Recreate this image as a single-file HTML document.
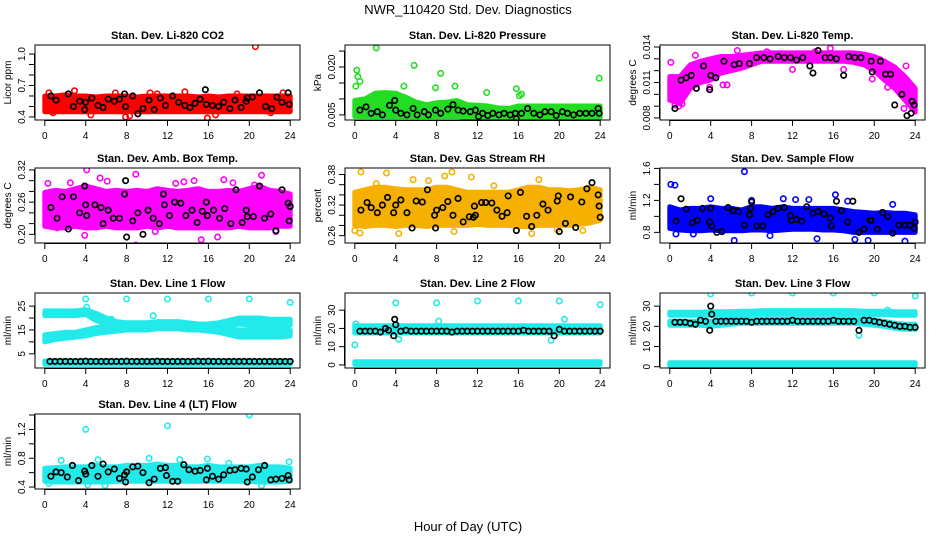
<!DOCTYPE html>
<html><head><meta charset="utf-8"><style>
html,body{margin:0;padding:0;background:#fff;}
svg{display:block;font-family:"Liberation Sans",sans-serif;}
</style></head><body>
<svg id="chart" width="936" height="540" viewBox="0 0 936 540" xmlns="http://www.w3.org/2000/svg">
<rect width="936" height="540" fill="#fff"/>
<text x="468" y="14" text-anchor="middle" font-size="13">NWR_110420  Std. Dev. Diagnostics</text>
<text x="468" y="531" text-anchor="middle" font-size="13">Hour of Day (UTC)</text>
</svg>
<script>
// ---------- data ----------
const hours=[0,1,2,3,4,5,6,7,8,9,10,11,12,13,14,15,16,17,18,19,20,21,22,23,24];
const xTicks=[0,4,8,12,16,20,24];

// CO2
const co2Lo=[0.45,0.45,0.45,0.45,0.45,0.45,0.45,0.45,0.45,0.45,0.45,0.45,0.45,0.45,0.45,0.45,0.45,0.45,0.45,0.45,0.45,0.45,0.45,0.45,0.45];
const co2Hi=[0.6,0.6,0.61,0.6,0.6,0.59,0.6,0.6,0.6,0.59,0.6,0.6,0.6,0.6,0.6,0.59,0.6,0.59,0.6,0.6,0.6,0.6,0.6,0.6,0.6];
const co2OutX=[20.6,15.9,7.9,4.5,13.7,2.9,0.4,10.3,22.1,16.7,23.3,0.8,8.3,18.8,11.0,6.9];
const co2OutY=[1.07,0.39,0.40,0.42,0.64,0.65,0.63,0.63,0.44,0.42,0.63,0.44,0.41,0.62,0.62,0.63];
const co2BlkX=[0.6,1.1,2.3,2.8,3.4,3.9,4.0,4.6,5.2,5.7,6.2,6.8,7.3,7.8,7.9,8.6,9.1,9.6,10.2,10.7,11.3,11.8,12.5,13.1,13.7,14.2,14.7,15.2,15.7,15.8,16.4,17.0,17.5,18.1,18.6,19.2,19.7,19.8,20.3,21.0,21.6,22.2,22.7,23.2,23.8,23.9];
const co2BlkY=[0.6,0.56,0.62,0.5,0.55,0.47,0.54,0.58,0.51,0.49,0.57,0.55,0.57,0.62,0.5,0.6,0.43,0.48,0.56,0.47,0.58,0.51,0.6,0.54,0.51,0.49,0.53,0.57,0.66,0.52,0.51,0.5,0.54,0.48,0.56,0.49,0.55,0.58,0.59,0.63,0.5,0.48,0.59,0.54,0.63,0.52];

// Pressure
const prsLo=[0.0045,0.0045,0.0045,0.0045,0.0045,0.0045,0.0045,0.0045,0.0045,0.0045,0.0045,0.0042,0.0042,0.0042,0.0042,0.0042,0.0042,0.0042,0.0042,0.0042,0.0042,0.0042,0.0042,0.0042,0.0042];
const prsHi=[0.0095,0.01,0.0118,0.012,0.0118,0.0105,0.009,0.0082,0.0088,0.009,0.0095,0.0082,0.008,0.0078,0.0072,0.007,0.0078,0.0078,0.0078,0.0078,0.0078,0.0078,0.0078,0.0078,0.0078];
const prsOutX=[2.1,0.2,0.3,5.8,8.4,0.1,4.8,7.9,9.8,23.9,15.8,12.9,16.3,0.5,16.1];
const prsOutY=[0.026,0.019,0.017,0.0205,0.018,0.014,0.014,0.0135,0.014,0.0165,0.0132,0.012,0.0115,0.0155,0.011];
const prsBlkX=[0.5,1.1,1.6,2.2,2.7,3.4,3.9,4.0,4.5,5.1,5.7,6.1,6.8,7.2,7.9,8.4,9.1,9.6,10.1,10.6,11.3,11.8,12.1,12.5,13.0,13.5,14.1,14.6,15.2,15.7,15.8,16.3,16.9,17.5,18.1,18.6,19.2,19.7,20.3,20.8,21.4,22.0,22.6,23.2,23.8,23.9];
const prsBlkY=[0.0065,0.0075,0.0055,0.006,0.005,0.008,0.0095,0.0065,0.0055,0.005,0.007,0.005,0.006,0.005,0.0065,0.0055,0.0068,0.0082,0.0065,0.0062,0.006,0.0065,0.0045,0.0055,0.0048,0.0055,0.005,0.0055,0.005,0.0055,0.0038,0.0055,0.007,0.0055,0.005,0.006,0.006,0.0048,0.006,0.0055,0.005,0.0055,0.0055,0.0055,0.007,0.0055];

// Li-820 Temp
const tmpLo=[0.0095,0.0092,0.0105,0.011,0.0112,0.0118,0.012,0.0122,0.0125,0.0128,0.0128,0.0128,0.0128,0.0128,0.0128,0.0128,0.0128,0.0128,0.0127,0.0125,0.012,0.0112,0.0105,0.0095,0.0085];
const tmpHi=[0.0115,0.0115,0.0125,0.0128,0.013,0.0132,0.0132,0.0133,0.0134,0.0135,0.0135,0.0135,0.0135,0.0135,0.0135,0.0135,0.0135,0.0135,0.0135,0.0134,0.0132,0.0128,0.0123,0.0115,0.0105];
const tmpOutX=[0.1,0.5,0.9,1.2,2.5,3.9,5.2,5.6,6.6,9.5,12.0,14.2,15.7,17.0,19.8,20.6,21.3,22.9,23.1,22.5,0.3];
const tmpOutY=[0.0127,0.0091,0.009,0.0092,0.0133,0.0106,0.0108,0.0108,0.0137,0.0136,0.0121,0.0136,0.0139,0.0121,0.0113,0.0129,0.0106,0.0088,0.0124,0.0107,0.0104];
const tmpBlkX=[0.5,1.1,1.6,2.1,2.6,3.3,3.9,4.0,4.5,5.3,6.3,6.8,7.8,8.5,9.2,9.8,10.6,11.2,11.8,12.4,13.0,13.7,14.0,14.5,15.2,15.7,16.3,17.0,17.5,18.1,18.7,19.7,19.8,20.6,21.1,21.6,22.0,22.7,23.2,23.6,23.7,23.9];
const tmpBlkY=[0.0088,0.0112,0.0114,0.0116,0.0105,0.0124,0.0104,0.0116,0.0114,0.0128,0.0125,0.0126,0.0126,0.0131,0.0131,0.013,0.0132,0.0131,0.0131,0.0129,0.0131,0.0124,0.0118,0.0137,0.0131,0.0131,0.013,0.0116,0.0132,0.0131,0.0131,0.0128,0.0119,0.0128,0.0117,0.0117,0.0091,0.01,0.0082,0.0084,0.0094,0.0091];

// Amb box temp
const ambLo=[0.215,0.212,0.212,0.215,0.212,0.212,0.215,0.212,0.212,0.212,0.215,0.212,0.215,0.212,0.212,0.212,0.212,0.212,0.212,0.215,0.212,0.212,0.212,0.215,0.215];
const ambHi=[0.278,0.282,0.28,0.285,0.29,0.285,0.28,0.282,0.28,0.282,0.28,0.285,0.282,0.28,0.282,0.285,0.28,0.28,0.282,0.28,0.285,0.29,0.282,0.28,0.275];
const ambOutX=[4.1,8.9,21.2,5.4,0.3,8.9,15.3,22.6,17.5,3.9,12.8,16.9,2.5,20.5,14.6,1.2,13.6,10.8,6.1,18.4];
const ambOutY=[0.32,0.312,0.31,0.305,0.295,0.18,0.19,0.205,0.302,0.198,0.295,0.195,0.296,0.292,0.3,0.212,0.298,0.205,0.299,0.296];
const ambBlkX=[0.6,1.2,1.7,2.3,2.8,3.4,3.9,4.0,4.1,4.9,5.5,5.7,6.2,6.7,7.3,7.8,7.9,8.0,8.6,9.1,9.6,10.1,10.6,11.2,11.6,11.7,12.2,12.7,13.3,13.8,14.4,14.9,15.4,15.8,15.9,16.5,17.1,17.6,18.2,18.7,19.3,19.7,19.8,20.4,21.0,21.5,22.1,22.6,23.2,23.8,23.9,24.0];
const ambBlkY=[0.25,0.23,0.27,0.21,0.27,0.24,0.29,0.255,0.235,0.255,0.25,0.22,0.245,0.23,0.23,0.275,0.3,0.195,0.225,0.24,0.2,0.245,0.23,0.22,0.275,0.255,0.235,0.26,0.258,0.235,0.245,0.222,0.243,0.26,0.235,0.245,0.23,0.248,0.22,0.283,0.222,0.245,0.233,0.233,0.29,0.23,0.238,0.207,0.283,0.258,0.225,0.252];

// Gas stream RH
const rhLo=[0.28,0.278,0.28,0.28,0.278,0.28,0.28,0.278,0.28,0.28,0.28,0.28,0.282,0.28,0.28,0.28,0.278,0.278,0.28,0.28,0.28,0.28,0.282,0.285,0.29];
const rhHi=[0.345,0.35,0.355,0.355,0.352,0.35,0.35,0.35,0.355,0.355,0.35,0.345,0.345,0.345,0.345,0.345,0.35,0.355,0.355,0.35,0.35,0.348,0.35,0.355,0.35];
const rhOutX=[0.6,3.1,9.5,8.8,11.4,18.0,0.0,0.5,4.3,9.7,17.3,19.8,5.7,2.1,7.2,13.6,22.3];
const rhOutY=[0.385,0.383,0.385,0.377,0.375,0.37,0.27,0.265,0.264,0.268,0.264,0.272,0.37,0.362,0.368,0.358,0.27];
const rhBlkX=[0.6,1.2,1.6,2.2,2.7,3.2,3.8,4.0,4.5,5.1,5.6,6.0,6.6,7.1,7.8,7.9,8.0,8.6,9.1,9.6,10.1,10.6,11.2,11.6,11.7,11.8,12.4,12.8,13.4,13.9,14.4,14.9,15.0,15.8,16.2,16.8,17.3,17.8,18.4,18.9,19.8,19.9,20.0,20.6,21.1,21.6,22.2,22.7,23.2,23.8,23.9,24.0];
const rhBlkY=[0.31,0.325,0.315,0.305,0.32,0.335,0.305,0.32,0.33,0.305,0.275,0.328,0.326,0.35,0.3,0.275,0.31,0.315,0.327,0.3,0.333,0.287,0.297,0.296,0.318,0.3,0.325,0.325,0.324,0.31,0.298,0.305,0.338,0.27,0.345,0.298,0.278,0.3,0.322,0.31,0.328,0.338,0.268,0.284,0.336,0.276,0.326,0.352,0.364,0.34,0.318,0.296];

// Sample flow
const sfLo=[0.85,0.83,0.82,0.82,0.83,0.82,0.82,0.82,0.83,0.83,0.82,0.83,0.84,0.84,0.84,0.83,0.83,0.82,0.8,0.8,0.8,0.8,0.8,0.8,0.8];
const sfHi=[1.12,1.08,1.1,1.1,1.12,1.1,1.1,1.08,1.12,1.12,1.1,1.12,1.1,1.1,1.1,1.1,1.1,1.08,1.06,1.05,1.04,1.05,1.04,1.04,1.02];
const sfOutX=[0.1,0.5,7.3,6.3,14.4,18.1,19.4,23.0,4.0,11.1,16.2,8.0,12.3,13.6,17.4,21.8,0.6,2.3,9.8];
const sfOutY=[1.4,1.39,1.56,0.7,0.72,0.71,0.7,0.69,1.22,1.22,1.27,1.2,1.21,1.21,1.19,1.15,0.78,0.78,0.76];
const sfBlkX=[0.6,1.1,1.6,2.2,2.7,3.2,3.9,4.0,4.1,4.6,5.1,5.7,6.2,6.7,7.3,7.8,7.9,8.0,8.5,9.1,9.6,10.1,10.6,11.2,11.8,11.9,12.4,12.9,13.4,14.0,14.5,15.1,15.7,15.8,16.3,16.8,17.4,17.9,18.5,19.0,19.6,19.7,20.3,20.8,21.3,21.8,22.4,23.0,23.5,23.9,24.0];
const sfBlkY=[0.94,1.22,1.09,0.92,0.95,1.1,0.93,1.1,0.88,0.8,0.81,1.11,1.07,1.06,0.89,1.02,1.1,1.18,0.88,0.88,1.02,1.06,1.1,1.11,1.01,0.95,0.96,0.94,1.12,1.04,1.06,1.03,0.98,0.88,1.19,1.07,0.93,1.19,0.8,0.84,0.95,0.95,0.84,1.05,1.0,0.79,0.89,0.89,0.89,0.85,0.93];

// Line 1 flow
const l1aLo=[21,21,21,21,21.5,19,17.5,16,15.5,15.5,15.5,16,16,16,16,15.5,15.5,16,17,17.5,17,17,17,17,17];
const l1aHi=[23,23,23,23,23.5,22,20,18.5,18,18,18,18.5,18.5,18.5,18,17.5,17.5,18,19,20,20,20,19.5,19.5,19.5];
const l1bLo=[10,11,11.5,12,12.5,13.5,14,14.5,15,15,15,15.5,15.5,15.5,15,15,14.5,14,13,12,12,12,12,12,12.5];
const l1bHi=[13,13.5,14,14,15,16,16.5,17,17,17,17.5,17.5,17.5,17.5,17,17,16.5,16.5,15.5,15,15,15,15,15,15];
const l1cLo=[0.6,0.6,0.6,0.6,0.6,0.6,0.6,0.6,0.6,0.6,0.6,0.6,0.6,0.6,0.6,0.6,0.6,0.6,0.6,0.6,0.6,0.6,0.6,0.6,0.6];
const l1cHi=[2,2,2,2,2,2,2,2,2,2,2,2,2,2,2,2,2,2,2,2,2,2,2,2,2];
const l1OutX=[4,8,12,16,20,24,6.5,4.1,10.6];
const l1OutY=[28,28,28,28,28,26.5,19.5,24.5,21];
const l1BlkX=[0.5,1,1.5,2,2.5,3,3.5,4,4.5,5,5.5,6,6.5,7,7.5,8,8.5,9,9.5,10,10.5,11,11.5,12,12.5,13,13.5,14,14.5,15,15.5,16,16.5,17,17.5,18,18.5,19,19.5,20,20.5,21,21.5,22,22.5,23,23.5,24];
const l1BlkY=[1.8,1.8,1.8,1.8,1.8,1.8,1.8,1.9,1.8,1.8,1.8,1.8,1.8,1.8,1.8,1.9,1.8,1.8,1.8,1.8,1.8,1.9,1.8,1.8,1.8,1.8,1.8,1.8,1.8,1.9,1.8,1.9,1.8,1.8,1.8,1.8,1.8,1.8,1.8,1.8,1.8,1.8,1.8,1.8,1.8,1.8,1.8,1.8];

// Line 2 flow
const l2aLo=[17.5,17.5,17.5,17.5,17.5,17.5,17.5,17.5,17.5,17.5,17.5,17.5,17.5,17.5,17.5,17.5,17.5,17.5,17.5,17.5,17.5,17.5,17.5,17.5,17.5];
const l2aHi=[21.5,21.5,21.5,21.5,21.5,21.5,21.5,21.5,21.5,21.5,21.5,21.5,21.5,21.5,21.5,21.5,21.5,21.5,21.5,21.5,21.5,21.5,21.5,21.5,21.5];
const l2cLo=[0.3,0.3,0.3,0.3,0.3,0.3,0.3,0.3,0.3,0.3,0.3,0.3,0.3,0.3,0.3,0.3,0.3,0.3,0.3,0.3,0.3,0.3,0.3,0.3,0.3];
const l2cHi=[1.8,1.8,1.8,1.8,1.8,1.8,1.8,1.8,1.8,1.8,1.8,1.8,1.8,1.8,1.8,1.8,1.8,1.8,1.8,1.8,1.8,1.8,1.8,1.8,1.8];
const l2OutX=[4,8,12,16,20,24,0,4.3,19.2,20.5,8.2,0.1];
const l2OutY=[34,34,35,35,35,33,11,14,13.5,25,24,22.5];
const l2BlkX=[0.5,1,1.5,2,2.5,3,3.3,3.8,3.9,4,4.5,5,5.5,6,6.5,7,7.5,8,8.5,9,9.5,10,10.5,11,11.5,12,12.5,13,13.5,14,14.5,15,15.5,16,16.5,17,17.5,18,18.5,19,19.5,20,20.5,21,21.5,22,22.5,23,23.5,24];
const l2BlkY=[18.5,18.5,18.5,18.5,18,20,19,16,25,22,18.5,19,18.5,18.5,18.5,18.5,18.5,18.5,18.5,18.5,18,18.5,18.5,18.5,18.5,18.5,18.5,18.5,18.5,18.5,18.5,18.5,18.5,18.5,19,18.5,18.5,18.5,18.5,18.5,16,19.5,18.5,18.5,18.5,18.5,18.5,18.5,18.5,18.5];

// Line 3 flow
const l3aLo=[25.5,25.5,25.5,25.5,25.5,25.5,25.5,25.8,26,26,26,26,26,26,26,26,26,26,26,26,25.8,25.8,25.5,25.5,25.5];
const l3aHi=[27,27,27,27,27.2,27.2,27.3,27.5,27.5,27.8,27.8,27.8,27.8,27.8,27.8,27.8,27.8,27.8,27.8,27.5,27.5,27.5,27.2,27.2,27.2];
const l3bLo=[20.5,20.5,20.5,20.5,20,20.5,21,21.5,21.5,21.5,21.5,21.5,21.5,21.5,21.5,21.5,21.5,21.5,21.5,21,20.5,20,19,18.5,18.5];
const l3bHi=[22.5,22.5,22.5,22.5,22.5,23,23.5,23.5,23.5,23.5,23.5,23.5,23.5,23.5,23.5,23.5,23.5,23.5,23.5,23.5,23,22.5,21.5,21,21];
const l3cLo=[0.3,0.3,0.3,0.3,0.3,0.3,0.3,0.3,0.3,0.3,0.3,0.3,0.3,0.3,0.3,0.3,0.3,0.3,0.3,0.3,0.3,0.3,0.3,0.3,0.3];
const l3cHi=[2,2,2,2,2,2,2,2,2,2,2,2,2,2,2,2,2,2,2,2,2,2,2,2,2];
const l3OutX=[4,8,12,16,20,24,18.5,21.3];
const l3OutY=[36,36.5,36.5,36.5,36.5,35,15.5,28];
const l3BlkX=[0.5,1,1.5,2,2.5,3,3.5,3.9,4,4.1,4.5,5,5.5,6,6.5,7,7.5,8,8.5,9,9.5,10,10.5,11,11.5,12,12.5,13,13.5,14,14.5,15,15.5,16,16.5,17,17.5,18,18.5,19,19.5,20,20.5,21,21.5,22,22.5,23,23.5,24];
const l3BlkY=[22,22,22,21.5,21,23,22.5,18,30,26,22.5,22.5,22.5,22.5,22.5,22.5,22.5,22,22.5,22.5,22.5,22.5,22.5,22.5,22.5,23,22.5,22.5,22.5,22.5,22.5,22.5,22.5,23,22.5,22.5,22.5,22.5,18,23,23,22.5,22,21.5,21,20.5,20,20,19.5,19.5];

// Line 4 flow
const l4Lo=[0.48,0.47,0.47,0.47,0.47,0.47,0.47,0.48,0.48,0.48,0.48,0.48,0.48,0.48,0.48,0.48,0.48,0.48,0.48,0.48,0.48,0.47,0.47,0.47,0.48];
const l4Hi=[0.66,0.67,0.68,0.68,0.68,0.7,0.68,0.68,0.7,0.7,0.7,0.72,0.7,0.7,0.68,0.68,0.7,0.68,0.68,0.68,0.68,0.7,0.68,0.68,0.66];
const l4OutX=[4,12,20,0.4,5.9,21.2,10.2,1.6,13.2,15.9,5.2,18.0,23.9,4.2];
const l4OutY=[1.2,1.25,1.4,0.45,0.42,0.42,0.8,0.77,0.78,0.79,0.78,0.73,0.75,0.43];
const l4BlkX=[0.6,1.1,1.6,2.2,2.7,3.3,3.9,4.0,4.6,5.2,5.7,6.2,6.8,7.3,7.8,7.9,8.0,8.6,9.1,9.6,10.2,10.7,11.3,11.8,11.9,12.5,13.0,13.6,14.1,14.7,15.2,15.8,15.9,16.4,17.0,17.5,18.1,18.6,19.2,19.7,19.8,20.3,20.9,21.5,22.1,22.6,23.2,23.8,23.9];
const l4BlkY=[0.55,0.61,0.6,0.54,0.7,0.49,0.62,0.58,0.7,0.55,0.72,0.61,0.65,0.52,0.57,0.47,0.61,0.68,0.69,0.6,0.46,0.51,0.66,0.67,0.56,0.48,0.48,0.71,0.64,0.62,0.63,0.5,0.66,0.55,0.51,0.57,0.63,0.64,0.66,0.65,0.47,0.54,0.64,0.7,0.5,0.51,0.52,0.56,0.5];

// ---------- drawing ----------
const NS='http://www.w3.org/2000/svg';
const svg=document.getElementById('chart');
const colL=[35,345,660], rowT=[45,168,293,414], PW=265, PH=75;
function el(tag,attrs,parent){const e=document.createElementNS(NS,tag);for(const k in attrs)e.setAttribute(k,attrs[k]);(parent||svg).appendChild(e);return e;}

function panel(p){
  const L=colL[p.col], T=rowT[p.row];
  const g=el('g',{});
  
  
  const X=h=>L+(h+0.96)/25.92*PW;
  const Y=v=>T+(p.ymax-v)/(p.ymax-p.ymin)*PH;
  const clip='clip-'+p.name;
  const cp=el('clipPath',{id:clip},g);
  el('rect',{x:L,y:T,width:PW,height:PH},cp);
  const plot=el('g',{'clip-path':'url(#'+clip+')'},g);
  // bands
  p.bands.forEach(([lo,hi],bi)=>{
    let d='';
    hours.forEach((h,i)=>{d+=(i?'L':'M')+X(h).toFixed(1)+','+Y(hi[i]).toFixed(1);});
    for(let i=hours.length-1;i>=0;i--) d+='L'+X(hours[i]).toFixed(1)+','+Y(lo[i]).toFixed(1);
    const b=el('path',{d:d+'Z',fill:p.color,stroke:p.color,'stroke-width':5,'stroke-linejoin':'round'},plot);
    
    
  });
  p.outX.forEach((h,i)=>{
    const c=el('circle',{cx:X(h),cy:Y(p.outY[i]),r:2.7,fill:'none',stroke:p.color,'stroke-width':1.6},plot);
    
    
  });
  p.blkX.forEach((h,i)=>{
    const c=el('circle',{cx:X(h),cy:Y(p.blkY[i]),r:2.7,fill:'none',stroke:'#000','stroke-width':1.7},plot);
    
    
  });
  const box=el('rect',{x:L,y:T,width:PW,height:PH,fill:'none',stroke:'#000','stroke-width':1},g);
  
  
  const t=el('text',{x:L+PW/2,y:T-6,'text-anchor':'middle','font-size':11,'font-weight':'bold'},g);
  t.textContent=p.title;
  
  
  // x axis
  const B=T+PH;
  el('line',{x1:X(0),x2:X(24),y1:B+0.5,y2:B+0.5,stroke:'#000'},g);
  xTicks.forEach(h=>{
    el('line',{x1:X(h),x2:X(h),y1:B,y2:B+6,stroke:'#000'},g);
    const tl=el('text',{x:X(h),y:B+19,'text-anchor':'middle','font-size':10},g);
    tl.textContent=h;
    
    
  });
  // y axis
  const yt=p.ticks;
  el('line',{x1:L-0.5,x2:L-0.5,y1:Y(yt[0]),y2:Y(yt[yt.length-1]),stroke:'#000'},g);
  yt.forEach(v=>{
    el('line',{x1:L-6,x2:L,y1:Y(v),y2:Y(v),stroke:'#000'},g);
  });
  p.labels.forEach(v=>{
    const yl=el('text',{x:L-10,y:Y(v),'text-anchor':'middle','font-size':10,transform:'rotate(-90 '+(L-10)+' '+Y(v)+')'},g);
    yl.textContent=v;
    
    
  });
  const yb=el('text',{x:L-24,y:T+PH/2,'text-anchor':'middle','font-size':10,transform:'rotate(-90 '+(L-24)+' '+(T+PH/2)+')'},g);
  yb.textContent=p.ylab;
  
  
}

const CY='#22eaea';
panel({name:'co2',col:0,row:0,title:'Stan. Dev. Li-820 CO2',ylab:'Licor ppm',ymin:0.371,ymax:1.086,ticks:[0.4,0.5,0.6,0.7,0.8,0.9,1.0],labels:['0.4','0.7','1.0'],color:'#ff0000',bands:[[co2Lo,co2Hi]],outX:co2OutX,outY:co2OutY,blkX:co2BlkX,blkY:co2BlkY});
panel({name:'pressure',col:1,row:0,title:'Stan. Dev. Li-820 Pressure',ylab:'kPa',ymin:0.0034,ymax:0.0269,ticks:[0.005,0.010,0.015,0.020,0.025],labels:['0.005','0.020'],color:'#22dd22',bands:[[prsLo,prsHi]],outX:prsOutX,outY:prsOutY,blkX:prsBlkX,blkY:prsBlkY});
panel({name:'li820-temp',col:2,row:0,title:'Stan. Dev. Li-820 Temp.',ylab:'degrees C',ymin:0.00783,ymax:0.01417,ticks:[0.008,0.009,0.010,0.011,0.012,0.013,0.014],labels:['0.008','0.011','0.014'],color:'#ff00ff',bands:[[tmpLo,tmpHi]],outX:tmpOutX,outY:tmpOutY,blkX:tmpBlkX,blkY:tmpBlkY});
panel({name:'amb-box-temp',col:0,row:1,title:'Stan. Dev. Amb. Box Temp.',ylab:'degrees C',ymin:0.1839,ymax:0.3236,ticks:[0.20,0.22,0.24,0.26,0.28,0.30,0.32],labels:['0.20','0.26','0.32'],color:'#ff00ff',bands:[[ambLo,ambHi]],outX:ambOutX,outY:ambOutY,blkX:ambBlkX,blkY:ambBlkY});
panel({name:'gas-rh',col:1,row:1,title:'Stan. Dev. Gas Stream RH',ylab:'percent',ymin:0.2455,ymax:0.3928,ticks:[0.26,0.28,0.30,0.32,0.34,0.36,0.38],labels:['0.26','0.32','0.38'],color:'#f5b000',bands:[[rhLo,rhHi]],outX:rhOutX,outY:rhOutY,blkX:rhBlkX,blkY:rhBlkY});
panel({name:'sample-flow',col:2,row:1,title:'Stan. Dev. Sample Flow',ylab:'ml/min',ymin:0.667,ymax:1.605,ticks:[0.8,1.0,1.2,1.4,1.6],labels:['0.8','1.2','1.6'],color:'#0000ff',bands:[[sfLo,sfHi]],outX:sfOutX,outY:sfOutY,blkX:sfBlkX,blkY:sfBlkY});
panel({name:'line1-flow',col:0,row:2,title:'Stan. Dev. Line 1 Flow',ylab:'ml/min',ymin:-0.96,ymax:30.5,ticks:[5,10,15,20,25],labels:['5','15','25'],color:CY,bands:[[l1aLo,l1aHi],[l1bLo,l1bHi],[l1cLo,l1cHi]],outX:l1OutX,outY:l1OutY,blkX:l1BlkX,blkY:l1BlkY});
panel({name:'line2-flow',col:1,row:2,title:'Stan. Dev. Line 2 Flow',ylab:'ml/min',ymin:-1.67,ymax:39.4,ticks:[0,10,20,30],labels:['0','10','20','30'],color:CY,bands:[[l2aLo,l2aHi],[l2cLo,l2cHi]],outX:l2OutX,outY:l2OutY,blkX:l2BlkX,blkY:l2BlkY});
panel({name:'line3-flow',col:2,row:2,title:'Stan. Dev. Line 3 Flow',ylab:'ml/min',ymin:-0.64,ymax:36.5,ticks:[0,10,20,30],labels:['0','10','20','30'],color:CY,bands:[[l3aLo,l3aHi],[l3bLo,l3bHi],[l3cLo,l3cHi]],outX:l3OutX,outY:l3OutY,blkX:l3BlkX,blkY:l3BlkY});
panel({name:'line4-flow',col:0,row:3,title:'Stan. Dev. Line 4 (LT) Flow',ylab:'ml/min',ymin:0.373,ymax:1.414,ticks:[0.4,0.6,0.8,1.0,1.2,1.4],labels:['0.4','0.8','1.2'],color:CY,bands:[[l4Lo,l4Hi]],outX:l4OutX,outY:l4OutY,blkX:l4BlkX,blkY:l4BlkY});
</script>
</body></html>
